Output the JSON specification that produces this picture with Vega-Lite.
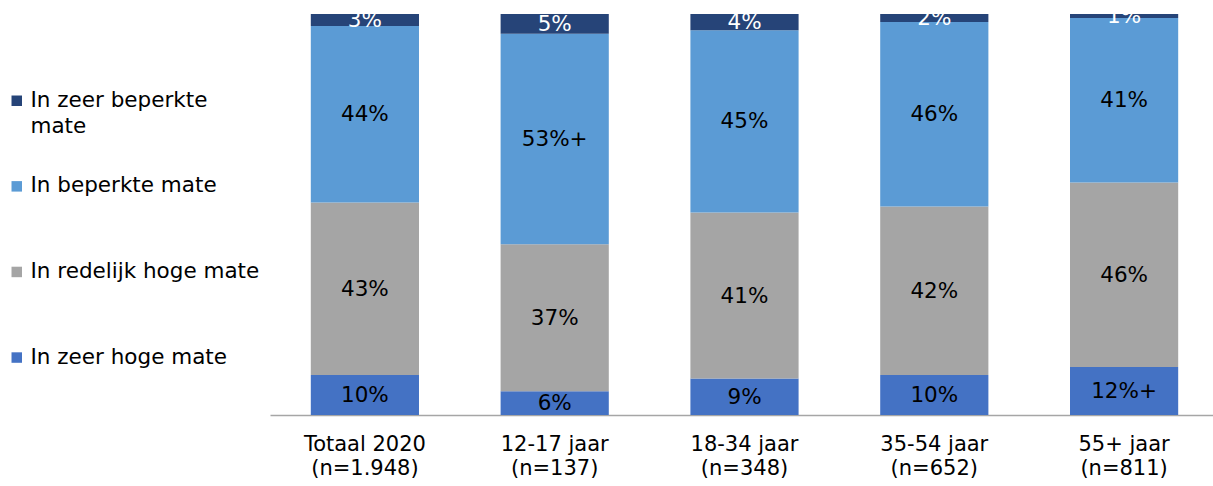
{
  "$schema": "https://vega.github.io/schema/vega-lite/v6.json",
  "width": 943,
  "height": 401,
  "autosize": "none",
  "padding": {"left": 270, "top": 14, "right": 0, "bottom": 71},
  "background": "white",
  "config": {
    "view": {"stroke": null},
    "font": "DejaVu Sans",
    "style": {"guide-label": {"dy": 6, "lineHeight": 26}}
  },
  "data": {
    "values": [
      {"cat": "Totaal 2020|(n=1.948)", "series": "In zeer hoge mate", "ord": 1, "value": 10, "label": "10%"},
      {"cat": "Totaal 2020|(n=1.948)", "series": "In redelijk hoge mate", "ord": 2, "value": 43, "label": "43%"},
      {"cat": "Totaal 2020|(n=1.948)", "series": "In beperkte mate", "ord": 3, "value": 44, "label": "44%"},
      {"cat": "Totaal 2020|(n=1.948)", "series": "In zeer beperkte mate", "ord": 4, "value": 3, "label": "3%"},
      {"cat": "12-17 jaar|(n=137)", "series": "In zeer hoge mate", "ord": 1, "value": 6, "label": "6%"},
      {"cat": "12-17 jaar|(n=137)", "series": "In redelijk hoge mate", "ord": 2, "value": 37, "label": "37%"},
      {"cat": "12-17 jaar|(n=137)", "series": "In beperkte mate", "ord": 3, "value": 53, "label": "53%+"},
      {"cat": "12-17 jaar|(n=137)", "series": "In zeer beperkte mate", "ord": 4, "value": 5, "label": "5%"},
      {"cat": "18-34 jaar|(n=348)", "series": "In zeer hoge mate", "ord": 1, "value": 9, "label": "9%"},
      {"cat": "18-34 jaar|(n=348)", "series": "In redelijk hoge mate", "ord": 2, "value": 41, "label": "41%"},
      {"cat": "18-34 jaar|(n=348)", "series": "In beperkte mate", "ord": 3, "value": 45, "label": "45%"},
      {"cat": "18-34 jaar|(n=348)", "series": "In zeer beperkte mate", "ord": 4, "value": 4, "label": "4%"},
      {"cat": "35-54 jaar|(n=652)", "series": "In zeer hoge mate", "ord": 1, "value": 10, "label": "10%"},
      {"cat": "35-54 jaar|(n=652)", "series": "In redelijk hoge mate", "ord": 2, "value": 42, "label": "42%"},
      {"cat": "35-54 jaar|(n=652)", "series": "In beperkte mate", "ord": 3, "value": 46, "label": "46%"},
      {"cat": "35-54 jaar|(n=652)", "series": "In zeer beperkte mate", "ord": 4, "value": 2, "label": "2%"},
      {"cat": "55+ jaar|(n=811)", "series": "In zeer hoge mate", "ord": 1, "value": 12, "label": "12%+"},
      {"cat": "55+ jaar|(n=811)", "series": "In redelijk hoge mate", "ord": 2, "value": 46, "label": "46%"},
      {"cat": "55+ jaar|(n=811)", "series": "In beperkte mate", "ord": 3, "value": 41, "label": "41%"},
      {"cat": "55+ jaar|(n=811)", "series": "In zeer beperkte mate", "ord": 4, "value": 1, "label": "1%"}
    ]
  },
  "encoding": {
    "x": {
      "field": "cat",
      "type": "nominal",
      "sort": ["Totaal 2020|(n=1.948)", "12-17 jaar|(n=137)", "18-34 jaar|(n=348)", "35-54 jaar|(n=652)", "55+ jaar|(n=811)"],
      "scale": {"paddingInner": 0.43, "paddingOuter": 0.215, "range": [0, 949]},
      "axis": {
        "title": null,
        "labelExpr": "split(datum.label, '|')",
        "labelAngle": 0,
        "labelFontSize": 21,
        "labelColor": "#000000",
        "labelLineHeight": 24,
        "labelPadding": 12,
        "ticks": false,
        "domainColor": "#A6A6A6",
        "domainWidth": 1.5,
        "grid": false
      }
    }
  },
  "layer": [
    {
      "mark": {"type": "bar"},
      "encoding": {
        "y": {"field": "value", "type": "quantitative", "stack": "normalize", "axis": null, "scale": {"domain": [0, 1], "nice": false}},
        "color": {
          "field": "series",
          "type": "nominal",
          "scale": {
            "domain": ["In zeer beperkte mate", "In beperkte mate", "In redelijk hoge mate", "In zeer hoge mate"],
            "range": ["#264478", "#5B9BD5", "#A5A5A5", "#4472C4"]
          },
          "legend": {
            "title": null,
            "orient": "none",
            "legendX": -264,
            "legendY": 76,
            "padding": 0,
            "symbolType": "square",
            "symbolSize": 110,
            "symbolStrokeWidth": 0,
            "symbolOpacity": 1,
            "labelFontSize": 21.5,
            "labelColor": "#000000",
            "labelBaseline": "alphabetic",
            "labelOffset": 3,
            "labelLimit": 300,
            "rowPadding": 36.6,
            "labelExpr": "datum.label == 'In zeer beperkte mate' ? ['In zeer beperkte', 'mate'] : [datum.label, ' ']"
          }
        },
        "order": {"field": "ord", "type": "quantitative"}
      }
    },
    {
      "mark": {"type": "text", "fontSize": 21.5, "baseline": "middle", "align": "center", "dy": 1},
      "encoding": {
        "y": {"field": "value", "type": "quantitative", "stack": "normalize", "bandPosition": 0.5},
        "detail": {"field": "series", "type": "nominal"},
        "order": {"field": "ord", "type": "quantitative"},
        "text": {"field": "label", "type": "nominal"},
        "color": {
          "condition": {"test": "datum.series == 'In zeer beperkte mate'", "value": "#FFFFFF"},
          "value": "#000000"
        }
      }
    }
  ]
}
